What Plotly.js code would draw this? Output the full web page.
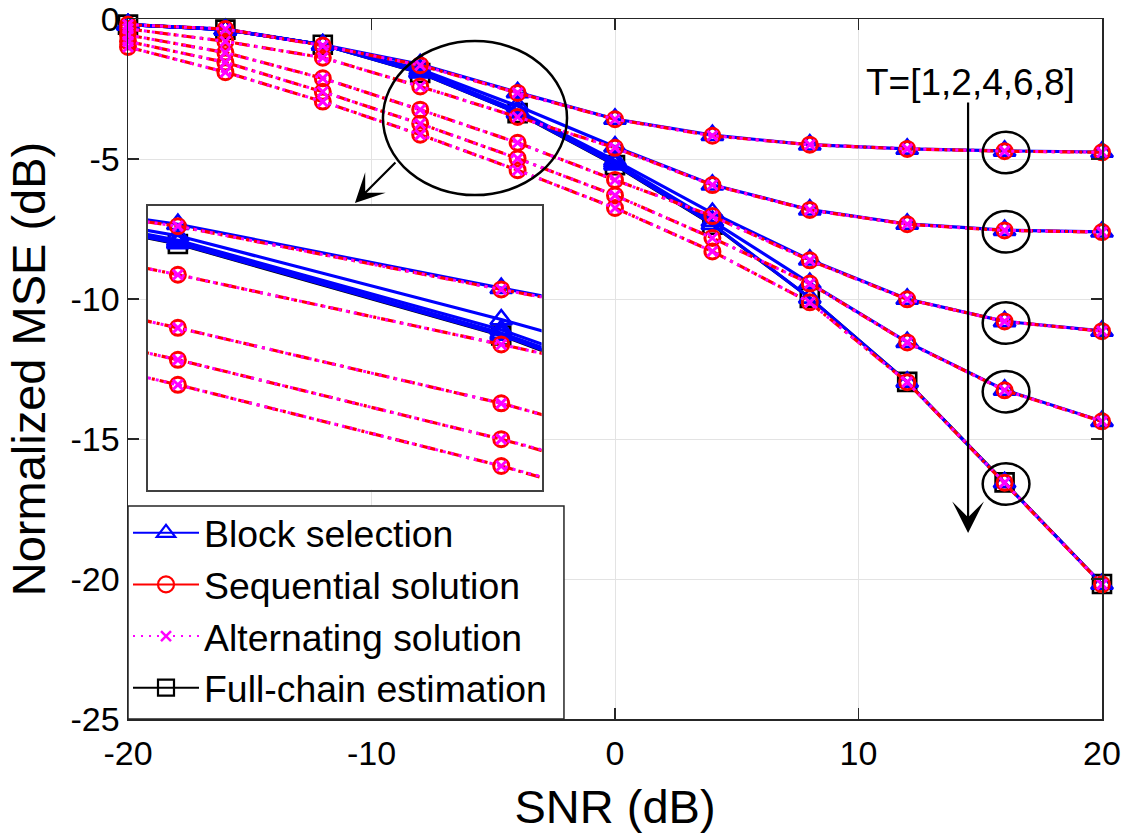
<!DOCTYPE html>
<html>
<head>
<meta charset="utf-8">
<script src="https://cdn.plot.ly/plotly-3.0.1.min.js"></script>
<style>html,body{margin:0;padding:0;background:#fff;}#plot{width:1129px;height:836px;}</style>
</head>
<body>
<div id="plot"></div>
<script>
// ---- data ----
const snr = [-20, -16, -12, -8, -4, 0, 4, 8, 12, 16, 20];

const blockT1 = [-0.20, -0.36, -0.92, -1.62, -2.62, -3.57, -4.15, -4.49, -4.64, -4.71, -4.75];
const seqT1   = [-0.20, -0.36, -0.95, -1.65, -2.64, -3.58, -4.17, -4.49, -4.64, -4.72, -4.76];
const altT1   = [-0.20, -0.36, -0.95, -1.65, -2.64, -3.58, -4.17, -4.49, -4.64, -4.72, -4.76];

const blockT2 = [-0.20, -0.38, -0.92, -1.80, -3.11, -4.56, -5.92, -6.81, -7.32, -7.54, -7.60];
const seqT2   = [-0.35, -0.80, -1.38, -2.41, -3.50, -4.60, -5.93, -6.82, -7.33, -7.55, -7.61];
const altT2   = [-0.35, -0.80, -1.38, -2.41, -3.50, -4.60, -5.93, -6.82, -7.33, -7.55, -7.61];

const blockT4 = [-0.20, -0.38, -0.92, -1.87, -3.27, -5.05, -6.93, -8.60, -10.00, -10.80, -11.14];
const seqT4   = [-0.57, -1.20, -2.12, -3.24, -4.42, -5.75, -7.04, -8.62, -10.01, -10.80, -11.15];
const altT4   = [-0.57, -1.20, -2.12, -3.24, -4.42, -5.75, -7.04, -8.62, -10.01, -10.80, -11.15];

const blockT6 = [-0.20, -0.38, -0.92, -1.90, -3.32, -5.12, -7.22, -9.43, -11.54, -13.25, -14.36];
const seqT6   = [-0.80, -1.55, -2.60, -3.74, -4.98, -6.30, -7.82, -9.45, -11.55, -13.26, -14.37];
const altT6   = [-0.80, -1.55, -2.60, -3.74, -4.98, -6.30, -7.82, -9.45, -11.55, -13.26, -14.37];

const blockT8 = [-0.20, -0.38, -0.92, -1.92, -3.35, -5.20, -7.33, -9.96, -12.96, -16.55, -20.18];
const seqT8   = [-1.00, -1.90, -2.95, -4.13, -5.40, -6.75, -8.30, -10.12, -12.97, -16.56, -20.19];
const altT8   = [-1.00, -1.90, -2.95, -4.13, -5.40, -6.75, -8.30, -10.12, -12.97, -16.56, -20.19];

const fullChain = [-0.20, -0.38, -0.92, -1.93, -3.36, -5.22, -7.35, -9.96, -12.96, -16.55, -20.18];

const legendNames = ['Block selection', 'Sequential solution', 'Alternating solution', 'Full-chain estimation'];
const xTickVals = [-20, -10, 0, 10, 20];
const xTickText = ['-20', '-10', '0', '10', '20'];
const yTickVals = [-25, -20, -15, -10, -5, 0];
const yTickText = ['-25', '-20', '-15', '-10', '-5', '0'];
const tLabel = 'T=[1,2,4,6,8]';
// values at SNR=16 dB highlighted with small circles
const circledAt16 = [blockT1[9], blockT2[9], blockT4[9], blockT6[9], blockT8[9]];

// ---- styles ----
const FONT = 'Liberation Sans, Arial, Helvetica, sans-serif';
const styles = {
  block: {line: {color: '#0000ff', width: 3.2, dash: 'solid'},
          marker: {symbol: 'triangle-up-open', size: 19, color: '#0000ff', line: {width: 2.6, color: '#0000ff'}}},
  seq:   {line: {color: '#ff0000', width: 3.2, dash: '14px,5px,3px,5px'},
          marker: {symbol: 'circle-open', size: 15, color: '#ff0000', line: {width: 3, color: '#ff0000'}}},
  alt:   {line: {color: '#ff00ff', width: 3, dash: '3px,5px'},
          marker: {symbol: 'x-thin-open', size: 10, color: '#ff00ff', line: {width: 3, color: '#ff00ff'}}},
  full:  {line: {color: '#000000', width: 3, dash: 'solid'},
          marker: {symbol: 'square-open', size: 18, color: '#000000', line: {width: 2.6, color: '#000000'}}}
};
// legend samples (MATLAB-style short samples)
const legendLine = {
  block: {color: '#0000ff', width: 2, dash: 'solid'},
  seq:   {color: '#ff0000', width: 2, dash: 'solid'},
  alt:   {color: '#ff00ff', width: 2, dash: '2px,6px'},
  full:  {color: '#000000', width: 2, dash: 'solid'}
};
const legendMarker = {
  block: {symbol: 'triangle-up-open', size: 19, color: '#0000ff', line: {width: 2.2, color: '#0000ff'}},
  seq:   {symbol: 'circle-open', size: 17, color: '#ff0000', line: {width: 2.2, color: '#ff0000'}},
  alt:   {symbol: 'x-thin-open', size: 10, color: '#ff00ff', line: {width: 2.5, color: '#ff00ff'}},
  full:  {symbol: 'square-open', size: 19, color: '#000000', line: {width: 2.2, color: '#000000'}}
};
const kinds = ['block', 'seq', 'alt', 'full'];

const groups = [
  ['full', fullChain],
  ['block', blockT1], ['block', blockT2], ['block', blockT4], ['block', blockT6], ['block', blockT8],
  ['seq', seqT1], ['seq', seqT2], ['seq', seqT4], ['seq', seqT6], ['seq', seqT8],
  ['alt', altT1], ['alt', altT2], ['alt', altT4], ['alt', altT6], ['alt', altT8]
];

const traces = [];
function addTraces(xa, ya, inset) {
  groups.forEach(([kind, ys]) => {
    const st = styles[kind];
    traces.push({
      type: 'scatter', mode: 'lines+markers',
      x: snr, y: ys, xaxis: xa, yaxis: ya,
      name: legendNames[kinds.indexOf(kind)], legendgroup: kind,
      showlegend: false,
      line: st.line, marker: st.marker,
      cliponaxis: inset ? true : false,
      hoverinfo: 'skip'
    });
  });
}
addTraces('x', 'y', false);
addTraces('x2', 'y2', true);
// legend-only entries
kinds.forEach((kind, i) => {
  traces.push({
    type: 'scatter', mode: 'lines+markers', x: [null], y: [null],
    name: legendNames[i], legendgroup: kind, legendrank: i + 1, showlegend: true,
    line: legendLine[kind], marker: legendMarker[kind], hoverinfo: 'skip'
  });
});

const axCommon = {
  showline: true, linecolor: '#262626', linewidth: 1.5, mirror: 'ticks',
  ticks: 'inside', ticklen: 11, tickwidth: 1.5, tickcolor: '#262626',
  showgrid: true, gridcolor: '#e3e3e3', gridwidth: 1, zeroline: false,
  ticklabeloverflow: 'allow',
  tickfont: {family: FONT, size: 34, color: '#000'}
};

const shapes = [
  {type: 'circle', xref: 'x', yref: 'y', x0: -9.53, x1: -1.97, y0: -6.29, y1: -0.79,
   line: {color: '#000', width: 2.5}, layer: 'above'},
  // legend box
  {type: 'rect', xref: 'paper', yref: 'paper', x0: 0, x1: 0.4476, y0: 0, y1: 0.3043,
   fillcolor: '#fff', line: {color: '#262626', width: 1.5}, layer: 'above'}
];
circledAt16.forEach(v => {
  shapes.push({type: 'circle', xref: 'x', yref: 'y', x0: 16.06 - 0.96, x1: 16.06 + 0.96,
               y0: v - 0.8, y1: v + 0.68, line: {color: '#000', width: 2.5}, layer: 'above'});
});

const layout = {
  width: 1129, height: 836,
  margin: {l: 128, r: 27, t: 19, b: 117},
  paper_bgcolor: '#fff', plot_bgcolor: '#fff',
  font: {family: FONT, color: '#000'},
  showlegend: true,
  xaxis: Object.assign({}, axCommon, {
    range: [-20, 20], tickmode: 'array', tickvals: xTickVals, ticktext: xTickText,
    ticklabelstandoff: 4,
    title: {text: 'SNR (dB)', font: {family: FONT, size: 47, color: '#000'}, standoff: 19}
  }),
  yaxis: Object.assign({}, axCommon, {
    range: [-25, 0], tickmode: 'array', tickvals: yTickVals, ticktext: yTickText,
    ticklabelstandoff: 0,
    title: {text: 'Normalized MSE (dB)', font: {family: FONT, size: 47, color: '#000'}, standoff: 10}
  }),
  xaxis2: {domain: [0.0205, 0.4247], anchor: 'y2', range: [-8.37, -3.5],
           showline: true, mirror: true, linecolor: '#404040', linewidth: 2,
           showgrid: false, zeroline: false, showticklabels: false, ticks: ''},
  yaxis2: {domain: [0.3276, 0.7324], anchor: 'x2', range: [-5.77, -1.34],
           showline: true, mirror: true, linecolor: '#404040', linewidth: 2,
           showgrid: false, zeroline: false, showticklabels: false, ticks: ''},
  legend: {
    x: 0, y: 0, xanchor: 'left', yanchor: 'bottom',
    bgcolor: 'rgba(0,0,0,0)', borderwidth: 0,
    font: {family: FONT, size: 37.4, color: '#000'},
    itemwidth: 66, tracegroupgap: 0, traceorder: 'grouped'
  },
  shapes: shapes,
  annotations: [
    {xref: 'paper', yref: 'paper', x: 0.865, y: 0.9086, xanchor: 'center', yanchor: 'middle',
     text: tLabel, showarrow: false, font: {family: FONT, size: 37, color: '#000'}},
    {xref: 'x', yref: 'y', x: 14.5, y: -18.36, ax: 0, ay: -432, text: '', showarrow: true,
     arrowhead: 3, arrowsize: 2.4, arrowwidth: 2.2, arrowcolor: '#000'},
    {xref: 'x', yref: 'y', x: -10.68, y: -6.57, ax: 42, ay: -42, text: '', showarrow: true,
     arrowhead: 3, arrowsize: 2.2, arrowwidth: 2.2, arrowcolor: '#000'}
  ]
};

Plotly.newPlot('plot', traces, layout, {displayModeBar: false, staticPlot: true});
</script>
</body>
</html>
